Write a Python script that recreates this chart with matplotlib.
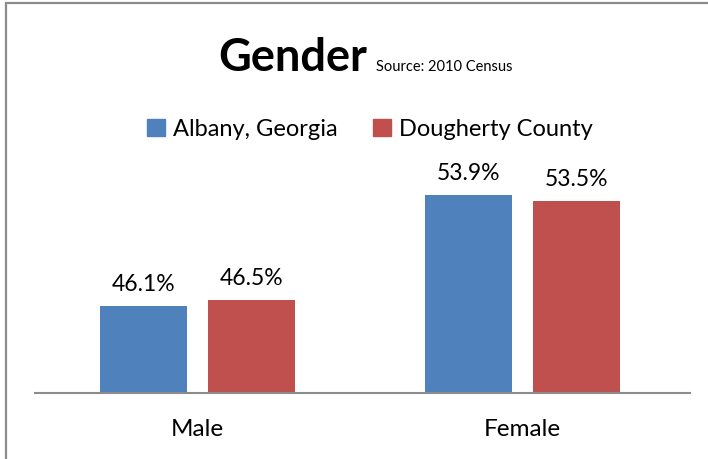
"""Gender split bar chart, Albany vs Dougherty County (2010 Census)."""

import matplotlib.pyplot as plt
from matplotlib.patches import Patch, Rectangle

categories = ["Male", "Female"]
albany = [46.1, 53.9]
dougherty = [46.5, 53.5]
series_names = ["Albany, Georgia", "Dougherty County"]

BLUE = "#4F81BD"
RED = "#C0504D"
FONT = ["Lato", "DejaVu Sans"]

plt.rcParams["font.family"] = FONT

W, H = 708, 459
fig = plt.figure(figsize=(W / 100, H / 100), dpi=100)

# axes box in pixels: x 35..690, baseline at y=393
ax = fig.add_axes([35 / W, (H - 393) / H, 655 / W, (393 - 108) / H])

width = 0.268
offset = 0.166
x = range(len(categories))
for i, (vals, color) in enumerate([(albany, BLUE), (dougherty, RED)]):
    pos = [xi + (i * 2 - 1) * offset for xi in x]
    bars = ax.bar(pos, [v - 40 for v in vals], width, bottom=40, color=color)
    for b, v in zip(bars, vals):
        ax.annotate(f"{v:.1f}%", (b.get_x() + b.get_width() / 2, v),
                    xytext=(0, 8), textcoords="offset points",
                    ha="center", va="bottom", fontsize=16.5)

ax.set_xlim(-0.5, 1.515)
ax.set_ylim(40, 60)
for side in ("top", "right", "left"):
    ax.spines[side].set_visible(False)
ax.spines["bottom"].set_color("#8c8c8c")
ax.spines["bottom"].set_linewidth(1.5)
ax.set_yticks([])
ax.set_xticks(list(x))
ax.set_xticklabels(categories, fontsize=17.5)
ax.tick_params(axis="x", length=0, pad=19)

# title with small source note
fig.text(218 / W, 1 - 71 / H, "Gender", fontsize=32.5, fontweight="bold",
         ha="left", va="baseline")
fig.text(376 / W, 1 - 71 / H, "Source: 2010 Census", fontsize=10.5,
         ha="left", va="baseline")

fig.legend(
    handles=[Patch(color=BLUE, label=series_names[0]),
             Patch(color=RED, label=series_names[1])],
    loc="center", bbox_to_anchor=(370 / W, 1 - 129 / H), ncol=2,
    frameon=False, fontsize=17, handlelength=0.75, handleheight=0.75,
    handletextpad=0.35, columnspacing=1.5,
)

# outer chart border (cropped at right and bottom)
fig.patches.append(Rectangle((6 / W, -0.1), 1.2, 1 - 3.5 / H + 0.1,
                             transform=fig.transFigure, fill=False,
                             edgecolor="#8c8c8c", linewidth=1.6))

fig.savefig("out.png", dpi=100)
